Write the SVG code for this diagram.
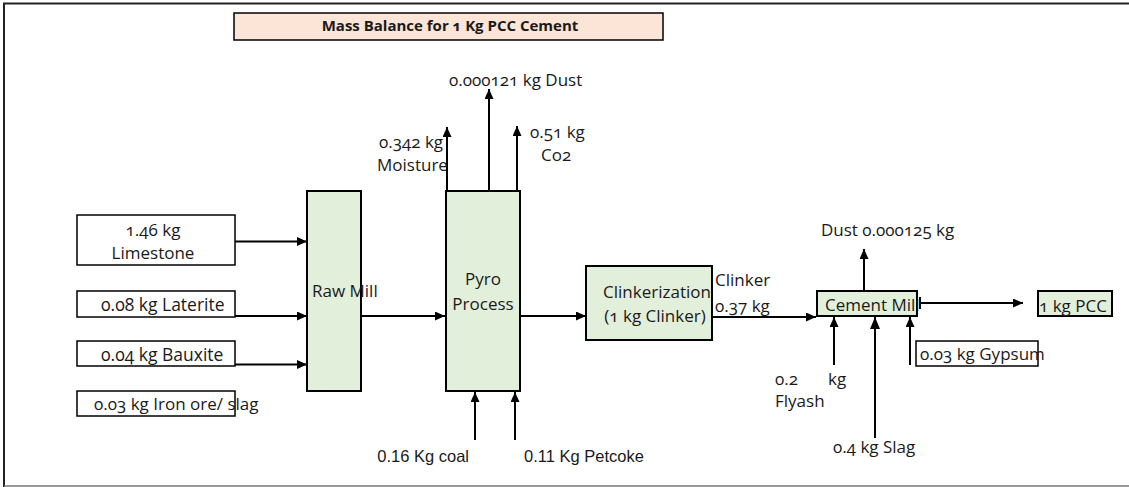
<svg xmlns="http://www.w3.org/2000/svg" width="1129" height="487" viewBox="0 0 1129 487">
<defs>
<marker id="ah" viewBox="0 0 10 10" refX="10" refY="5" markerWidth="10" markerHeight="9" markerUnits="userSpaceOnUse" orient="auto" preserveAspectRatio="none">
<path d="M0,0 L10,5 L0,10 z" fill="#000"/>
</marker>
<marker id="ahb" viewBox="0 0 10 10" refX="10" refY="5" markerWidth="12" markerHeight="10" markerUnits="userSpaceOnUse" orient="auto" preserveAspectRatio="none">
<path d="M0,0 L10,5 L0,10 z" fill="#000"/>
</marker>
</defs>
<style>
text{font-family:"Open Sans","Liberation Sans",sans-serif;font-size:17px;fill:#1a1a1a;font-variant-numeric:oldstyle-nums}
.cal{font-family:"Liberation Sans",Arial,sans-serif;font-size:16.5px;font-variant-numeric:normal}
.box{fill:#fff;stroke:#000;stroke-width:1.5}
.g{fill:#e2efda;stroke:#000;stroke-width:2}
.c{stroke:#000;stroke-width:2;fill:none}
.m{text-anchor:middle}
</style>
<g id="frame">
<line x1="3" y1="3.5" x2="1129" y2="3.5" stroke="#222" stroke-width="2"/>
<line x1="4" y1="3" x2="4" y2="487" stroke="#222" stroke-width="2"/>
<line x1="4" y1="486" x2="1129" y2="486" stroke="#777" stroke-width="1.5"/>
</g>
<g id="title">
<rect x="234" y="13" width="429" height="27" fill="#fce4d6" stroke="#000" stroke-width="1.5"/>
<text x="450" y="31" class="m" style="font-weight:bold;font-size:15px">Mass Balance for 1 Kg PCC Cement</text>
</g>
<g id="limestone">
<rect class="box" x="77" y="215" width="158" height="50"/>
<text x="153" y="236" class="m">1.46 kg</text>
<text x="153" y="259" class="m">Limestone</text>
</g>
<g id="laterite">
<rect class="box" x="77" y="291" width="158" height="26"/>
<text x="101" y="311" style="font-size:17.5px">0.08 kg Laterite</text>
</g>
<g id="bauxite">
<rect class="box" x="77" y="341" width="158" height="25"/>
<text x="101" y="361" style="font-size:17.5px">0.04 kg Bauxite</text>
</g>
<g id="ironore">
<rect class="box" x="77" y="391" width="158" height="25"/>
<text x="94" y="410">0.03 kg Iron ore/ slag</text>
</g>
<g id="rawmill">
<rect class="g" x="307" y="191" width="54" height="200"/>
<text x="312" y="297">Raw Mill</text>
</g>
<g id="pyro">
<rect class="g" x="446" y="191" width="74" height="200"/>
<text x="483" y="285" class="m">Pyro</text>
<text x="483" y="310" class="m">Process</text>
</g>
<g id="clinkerization">
<rect class="g" x="586" y="266" width="126" height="74"/>
<text x="657" y="298" class="m">Clinkerization</text>
<text x="655" y="322" class="m">(1 kg Clinker)</text>
</g>
<g id="cementmill">
<rect class="g" x="817" y="291" width="100" height="25"/>
<text x="825" y="311">Cement Mill</text>
</g>
<g id="pcc">
<rect class="g" x="1038" y="291" width="74" height="25"/>
<text x="1039" y="312">1 kg PCC</text>
</g>
<g id="gypsum">
<rect class="box" x="916" y="341" width="122" height="25"/>
<text x="920" y="360">0.03 kg Gypsum</text>
</g>
<g id="connectors">
<line class="c" x1="235" y1="241.5" x2="307" y2="241.5" marker-end="url(#ah)"/>
<line class="c" x1="235" y1="316" x2="307" y2="316" marker-end="url(#ah)"/>
<line class="c" x1="235" y1="364.5" x2="307" y2="364.5" marker-end="url(#ah)"/>
<line class="c" x1="361" y1="316" x2="445" y2="316" marker-end="url(#ah)"/>
<line class="c" x1="520" y1="316" x2="586" y2="316" marker-end="url(#ah)"/>
<line class="c" x1="447" y1="191" x2="447" y2="127" marker-end="url(#ah)"/>
<line class="c" x1="489" y1="191" x2="489" y2="89" marker-end="url(#ah)"/>
<line class="c" x1="517" y1="191" x2="517" y2="126" marker-end="url(#ah)"/>
<line class="c" x1="475" y1="440" x2="475" y2="392" marker-end="url(#ah)"/>
<line class="c" x1="515" y1="440" x2="515" y2="392" marker-end="url(#ah)"/>
<line class="c" x1="712" y1="317" x2="816" y2="317" marker-end="url(#ah)"/>
<line class="c" x1="864" y1="290" x2="864" y2="249" marker-end="url(#ah)"/>
<line class="c" x1="920" y1="297" x2="920" y2="309"/>
<line class="c" x1="920" y1="303" x2="1023" y2="303" marker-end="url(#ah)"/>
<line class="c" x1="834" y1="365" x2="834" y2="317" marker-end="url(#ah)"/>
<line class="c" x1="875" y1="438" x2="875" y2="317" stroke-width="2.5" marker-end="url(#ahb)"/>
<line class="c" x1="910" y1="365" x2="910" y2="317" marker-end="url(#ah)"/>
</g>
<g id="labels">
<text x="449" y="86">0.000121 kg Dust</text>
<text x="379" y="148">0.342 kg</text>
<text x="377" y="171">Moisture</text>
<text x="530" y="138">0.51 kg</text>
<text x="541" y="161">Co2</text>
<text x="469" y="462" class="cal" text-anchor="end">0.16 Kg coal</text>
<text x="524" y="462" class="cal">0.11 Kg Petcoke</text>
<text x="715" y="286">Clinker</text>
<text x="715" y="312">0.37 kg</text>
<text x="821" y="236">Dust 0.000125 kg</text>
<text x="775" y="385">0.2</text>
<text x="828" y="385">kg</text>
<text x="775" y="407">Flyash</text>
<text x="833" y="453">0.4 kg Slag</text>
</g>
</svg>
